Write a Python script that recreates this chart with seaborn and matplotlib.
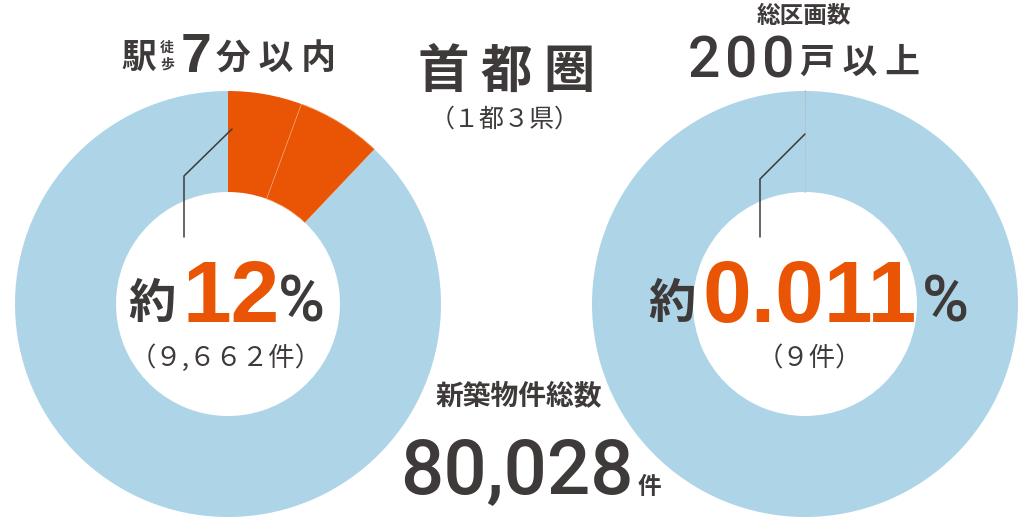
import matplotlib.pyplot as plt
import seaborn as sns

# values
total_units = "80,028"
near_label = "（９,６６２件）"
large_label = "（９件）"
near_pct = "12"
large_pct = "0.011"
lot_size = "200"
# left ring: two orange segments (walk-time split) + rest
left_shares = [5.6, 6.47, 87.93]
# right ring: 200+ unit developments vs rest
right_shares = [0.011, 99.989]

BLUE = "#AED4E7"
ORANGE = "#E95504"
DARK = "#3E3A39"
CJK = ["Noto Sans CJK JP", "DejaVu Sans"]
NUM = ["Liberation Sans", "DejaVu Sans"]
ROB = ["Roboto", "DejaVu Sans"]

sns.set_theme(style="white")
plt.rcParams["font.family"] = CJK

W, H = 1032, 518
fig = plt.figure(figsize=(W / 100, H / 100), dpi=100)
ax = fig.add_axes([0, 0, 1, 1])


def Y(y):
    return H - y


R, RW = 213, 101
left_c = (228, Y(304))
right_c = (805, Y(304))

wl, _ = ax.pie(left_shares, colors=[ORANGE, ORANGE, BLUE], startangle=90,
               counterclock=False, radius=R, center=left_c,
               wedgeprops=dict(width=RW, linewidth=0))
wl[1].set_edgecolor("#F3A070")
wl[1].set_linewidth(0.5)

wr, _ = ax.pie(right_shares, colors=[ORANGE, BLUE], startangle=90,
               counterclock=False, radius=R, center=right_c,
               wedgeprops=dict(width=RW, linewidth=0))
wr[0].set_edgecolor(ORANGE)
wr[0].set_linewidth(0.9)

ax.set_xlim(0, W)
ax.set_ylim(0, H)
ax.set_aspect("equal")
ax.axis("off")

# leader lines
ax.plot([184, 184, 232], [Y(237), Y(176), Y(129)], color=DARK, lw=1.1)
ax.plot([760, 760, 805], [Y(237), Y(179), Y(134)], color=DARK, lw=1.1)


def t(x, y, s, size, color=DARK, weight="bold", family=CJK, ha="left", **kw):
    ax.text(x, Y(y), s, fontsize=size, color=color, fontweight=weight,
            family=family, ha=ha, va="baseline", **kw)


# left heading
t(121, 68, "駅", 25)
t(160, 52, "徒", 10)
t(160, 69, "歩", 10)
t(181, 72, "7", 40, family=NUM)
t(216, 70, "分 以 内", 25)

# centre heading
t(507, 87, "首 都 圏", 37, ha="center")
t(505, 127, "（１都３県）", 18, weight="normal", ha="center")

# right heading
t(804, 23, "総区画数", 17, ha="center")
for i, ch in enumerate(lot_size):
    t(688 + i * 37, 77, ch, 41, family=ROB, weight="medium")
t(800, 73, "戸 以 上", 25)

# left centre
t(128, 318, "約", 34)
t(182, 322, near_pct, 63, color=ORANGE, family=NUM)
t(278, 321, "%", 46, family=ROB, weight="medium")
t(226, 366, near_label, 19, weight="normal", ha="center")

# right centre
t(648, 318, "約", 34)
t(703, 322, large_pct, 63, color=ORANGE, family=NUM)
t(922, 321, "%", 46, family=ROB, weight="medium")
t(809, 366, large_label, 19, weight="normal", ha="center")

# total
t(519, 404, "新築物件総数", 20, ha="center")
t(400, 493, total_units, 55, family=ROB, weight="medium")
t(638, 494, "件", 17)

fig.savefig("out.png", dpi=100)
